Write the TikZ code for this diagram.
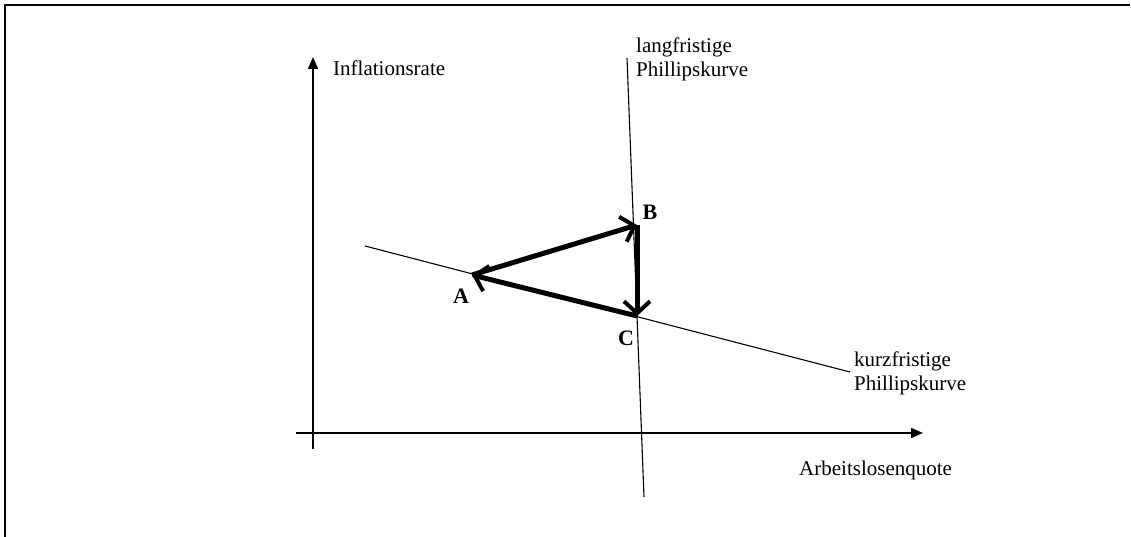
\documentclass[tikz,border=0pt]{standalone}
\usepackage{fontspec}
\setmainfont{Liberation Serif}
\usetikzlibrary{arrows.meta}
\tikzset{
  axis/.style={line width=1.8pt,-{Triangle[length=12pt,width=10pt]}},
  curve/.style={line width=1.1pt},
  movearrow/.style={line width=5pt,-{Straight Barb[length=12pt,width=26pt,line width=4pt]}},
  lbl/.style={font=\fontsize{21}{24}\selectfont,inner sep=0pt,anchor=base west,align=left},
  ptlbl/.style={font=\fontsize{22}{24}\selectfont\bfseries,inner sep=0pt}
}
\begin{document}
\begin{tikzpicture}[x=1pt,y=-1pt]
\useasboundingbox (0,0) rectangle (1131,537);
% frame
\draw[line width=2pt] (5,537) -- (5,5) -- (1130,5);
% axes
\coordinate (yb) at (313,449);
\coordinate (yt) at (313,57);
\coordinate (xl) at (296,433);
\coordinate (xr) at (923,433);
\draw[axis] (yb) -- (yt);
\draw[axis] (xl) -- (xr);
% Phillips curves
\coordinate (lt) at (627,58);
\coordinate (lb) at (644,497);
\coordinate (sl) at (365,246);
\coordinate (sr) at (850,372);
\draw[curve] (lt) -- (lb);
\draw[curve] (sl) -- (sr);
% points
\coordinate (A) at (472,275);
\coordinate (B) at (637,225);
\coordinate (C) at (637,316);
\draw[movearrow] (C) -- (A);
\draw[movearrow] (A) -- (B);
\draw[movearrow] (B) -- (C);
% labels
\node[ptlbl] (lA) at (461,296) {A};
\node[ptlbl] (lB) at (650,212) {B};
\node[ptlbl] (lC) at (626,338) {C};
\node[lbl] (tinf) at (333,76) {Inflationsrate};
\node[lbl] (tlang) at (636,77) {langfristige\\[0pt]Phillipskurve};
\node[lbl] (tkurz) at (854,390) {kurzfristige\\[0pt]Phillipskurve};
\node[lbl] (tarb) at (799,475) {Arbeitslosenquote};
\end{tikzpicture}
\end{document}
